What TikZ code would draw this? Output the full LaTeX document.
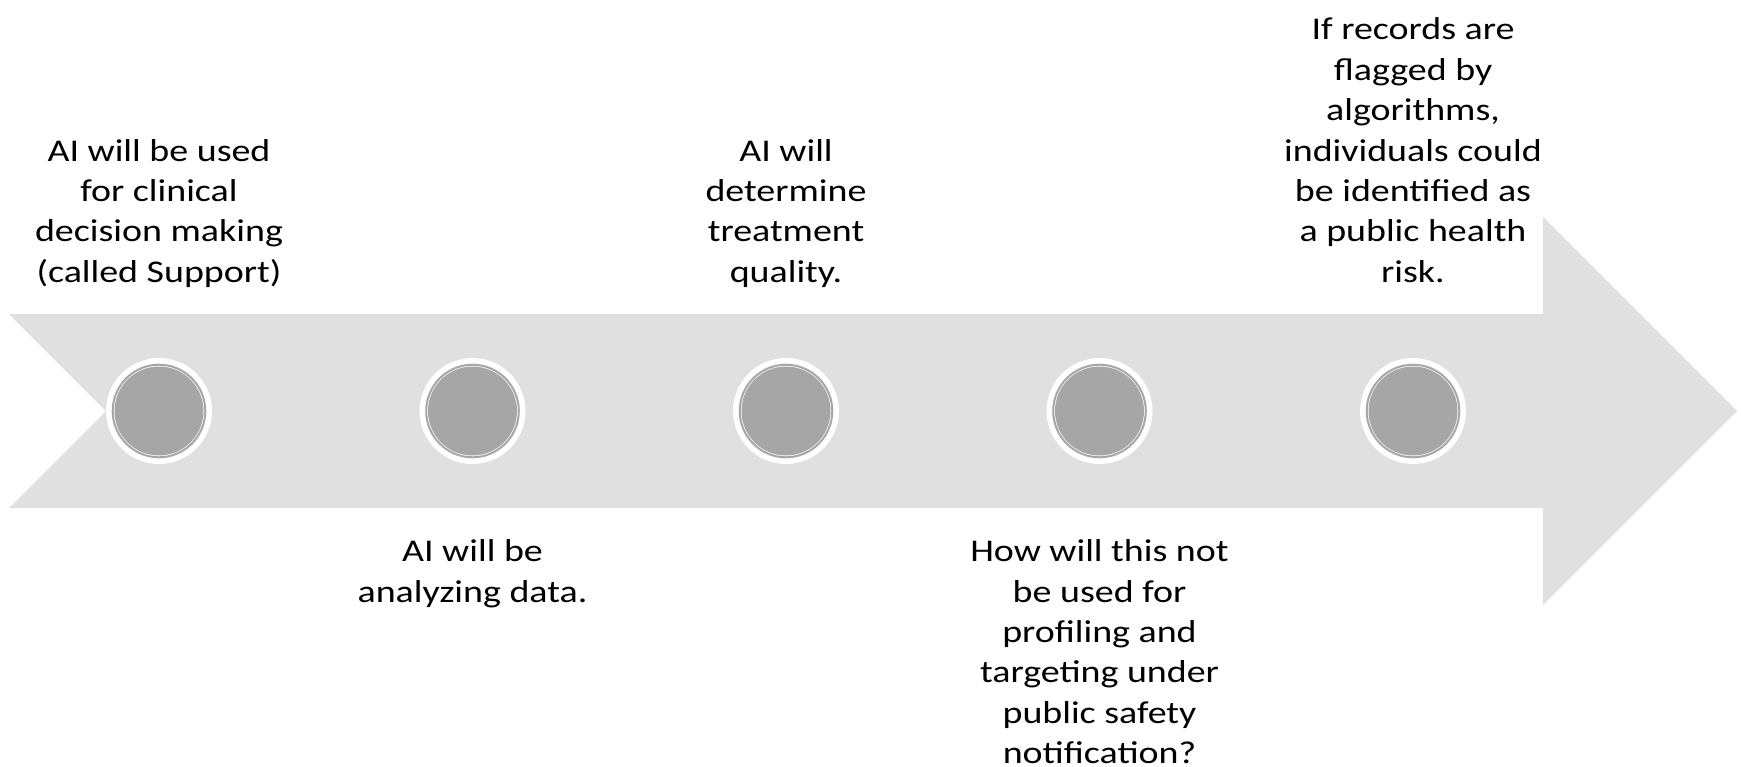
\documentclass[tikz,border=0pt]{standalone}
\usepackage{fontspec}
\setmainfont{Carlito}[FakeStretch=1.2]
\usetikzlibrary{positioning}
\definecolor{arrowgrey}{HTML}{E0E0E0}
\definecolor{dotgrey}{HTML}{A6A6A6}
\tikzset{
  ringdot/.style={circle, fill=white, inner sep=0pt, minimum size=2.12cm},
  fulldot/.style={circle, fill=dotgrey, inner sep=0pt, minimum size=1.78cm},
  stagetext/.style={align=center, inner sep=0pt, font=\fontsize{18}{23}\selectfont},
  toptext/.style={stagetext, text depth=0pt},
  bottext/.style={stagetext},
}
\begin{document}
\begin{tikzpicture}[x=0.02cm, y=-0.02cm]
\useasboundingbox (0,0) rectangle (1741,767);
% big arrow
\fill[arrowgrey] (9,314) -- (1543,314) -- (1543,217) -- (1737,411) -- (1543,605) -- (1543,508) -- (9,508) -- (106,411) -- cycle;
% dots
\foreach \i/\x in {1/159, 2/472.5, 3/786, 4/1099.5, 5/1413} {
  \node[ringdot] (c\i) at (\x,411) {};
  \node[fulldot] (d\i) at (c\i) {};
  \draw[dotgrey, line width=0.04cm] (c\i) circle [radius=0.926cm];
}
% labels
\node[toptext, above=1.5cm of c1] (t1) {AI will be used\\for clinical\\decision making\\(called Support)};
\node[bottext, below=1.5cm of c2] (t2) {AI will be\\analyzing data.};
\node[toptext, above=1.5cm of c3] (t3) {AI will\\determine\\treatment\\quality.};
\node[bottext, below=1.5cm of c4] (t4) {How will this not\\be used for\\profiling and\\targeting under\\public safety\\notification?};
\node[toptext, above=1.5cm of c5] (t5) {If records are\\flagged by\\algorithms,\\individuals could\\be identified as\\a public health\\risk.};
\end{tikzpicture}
\end{document}
